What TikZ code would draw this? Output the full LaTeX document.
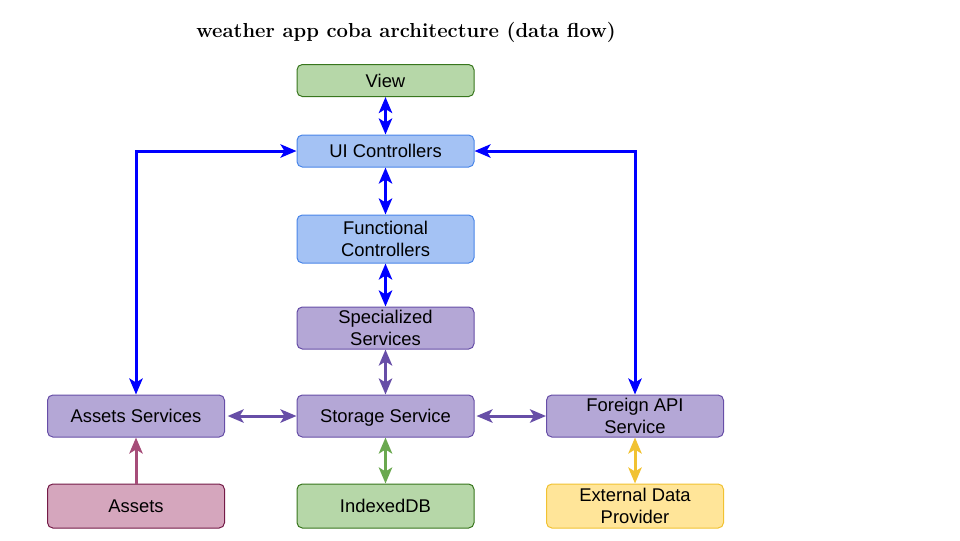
\documentclass[tikz,border=0pt]{standalone}
\usepackage{fontspec}
\newfontfamily\boxfont{Liberation Sans}
\usetikzlibrary{arrows.meta}

\definecolor{viewfill}{HTML}{B6D7A8}
\definecolor{viewline}{HTML}{38761D}
\definecolor{ctrlfill}{HTML}{A4C2F4}
\definecolor{ctrlline}{HTML}{4A86E8}
\definecolor{servfill}{HTML}{B4A7D6}
\definecolor{servline}{HTML}{674EA7}
\definecolor{assetfill}{HTML}{D5A6BD}
\definecolor{assetline}{HTML}{741B47}
\definecolor{extfill}{HTML}{FFE599}
\definecolor{extline}{HTML}{F1C232}
\definecolor{flowblue}{HTML}{0000FF}
\definecolor{flowgreen}{HTML}{6AA84F}
\definecolor{flowpink}{HTML}{A64D79}

\begin{document}
\begin{tikzpicture}[x=0.75pt, y=-0.75pt,
    box/.style={draw, rounded corners=4pt, line width=0.75pt, align=center,
        font=\boxfont\fontsize{13.8}{16.5}\selectfont,
        text height=9.9pt, text depth=0pt,
        minimum width=132.75pt, inner sep=0pt},
    twoline/.style={text height=26.4pt, text depth=0pt},
    flow/.style={line width=2.25pt, {Stealth[length=12pt,width=10pt,inset=3pt]}-{Stealth[length=12pt,width=10pt,inset=3pt]}},
    oneway/.style={line width=2.25pt, -{Stealth[length=12pt,width=10pt,inset=3pt]}}]

    \useasboundingbox (0, 0) rectangle (960, 540);

    % Title
    \node (title) at (406, 32) {\fontsize{15.2}{17}\selectfont\bfseries weather app coba architecture (data flow)};

    % Middle column
    \node[box, fill=viewfill, draw=viewline, minimum height=24pt] (view) at (385.5, 80.5) {View};
    \node[box, fill=ctrlfill, draw=ctrlline, minimum height=24pt] (uictrl) at (385.5, 151) {UI Controllers};
    \node[box, twoline, fill=ctrlfill, draw=ctrlline, minimum height=36pt] (funcctrl) at (385.5, 239) {Functional\\Controllers};
    \node[box, twoline, fill=servfill, draw=servline, minimum height=31.5pt] (specserv) at (385.5, 328) {Specialized\\Services};
    \node[box, fill=servfill, draw=servline, minimum height=31.5pt] (storage) at (385.5, 416) {Storage Service};
    \node[box, fill=viewfill, draw=viewline, minimum height=33pt] (indexeddb) at (385.5, 506) {IndexedDB};

    % Left column
    \node[box, fill=servfill, draw=servline, minimum height=31.5pt] (assetserv) at (136, 416) {Assets Services};
    \node[box, fill=assetfill, draw=assetline, minimum height=33pt] (assets) at (136, 506) {Assets};

    % Right column
    \node[box, twoline, fill=servfill, draw=servline, minimum height=31.5pt] (foreign) at (635, 416) {Foreign API\\Service};
    \node[box, twoline, fill=extfill, draw=extline, minimum height=33pt] (external) at (635, 506) {External Data\\Provider};

    % Controller flow
    \draw[flow, flowblue] (view) -- (uictrl);
    \draw[flow, flowblue] (uictrl) -- (funcctrl);
    \draw[flow, flowblue] (funcctrl) -- (specserv);
    \draw[flow, flowblue] (uictrl.west) -| (assetserv.north);
    \draw[flow, flowblue] (uictrl.east) -| (foreign.north);

    % Service flow
    \draw[flow, servline] (specserv) -- (storage);
    \draw[flow, servline, shorten <=2pt] (assetserv) -- (storage);
    \draw[flow, servline, shorten <=1.5pt] (storage) -- (foreign);
    \draw[flow, flowgreen] (storage) -- (indexeddb);
    \draw[flow, extline] (foreign) -- (external);
    \draw[oneway, flowpink] (assets) -- (assetserv);

\end{tikzpicture}
\end{document}
